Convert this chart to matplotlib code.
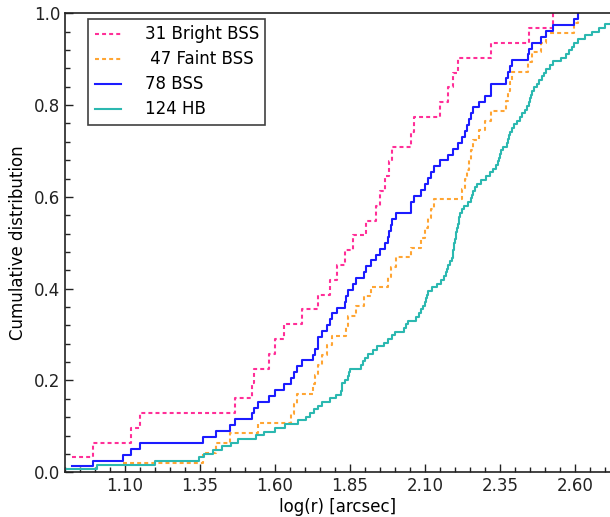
import numpy as np
import matplotlib
matplotlib.use("Agg")
import matplotlib.pyplot as plt
from matplotlib.ticker import MultipleLocator

# log10 of projected radial distance (arcsec) for each population
bright_bss = [0.923, 0.993, 1.120, 1.150, 1.467, 1.523, 1.530, 1.580, 1.600, 1.630,
              1.690, 1.743, 1.783, 1.807, 1.833, 1.860, 1.903, 1.937, 1.950, 1.967,
              1.980, 1.990, 2.053, 2.063, 2.150, 2.177, 2.193, 2.210, 2.320, 2.447,
              2.527]

faint_bss = [1.093, 1.360, 1.403, 1.450, 1.543, 1.653, 1.663, 1.673, 1.727, 1.733,
             1.743, 1.757, 1.773, 1.790, 1.837, 1.843, 1.870, 1.897, 1.920, 1.977,
             1.987, 2.003, 2.053, 2.087, 2.100, 2.110, 2.120, 2.130, 2.223, 2.233,
             2.240, 2.247, 2.253, 2.260, 2.280, 2.300, 2.320, 2.370, 2.377, 2.383,
             2.390, 2.443, 2.457, 2.487, 2.503, 2.597, 2.610]

hb = [0.897, 1.007, 1.200, 1.347, 1.363, 1.393, 1.423, 1.453, 1.477, 1.537,
      1.563, 1.600, 1.633, 1.677, 1.703, 1.717, 1.730, 1.743, 1.757, 1.783,
      1.803, 1.820, 1.822, 1.823, 1.833, 1.843, 1.847, 1.850, 1.887, 1.893,
      1.900, 1.910, 1.927, 1.940, 1.963, 1.977, 1.990, 2.000, 2.030, 2.037,
      2.043, 2.070, 2.080, 2.087, 2.093, 2.100, 2.103, 2.107, 2.110, 2.123,
      2.140, 2.153, 2.163, 2.170, 2.173, 2.177, 2.183, 2.190, 2.193, 2.195,
      2.197, 2.198, 2.200, 2.202, 2.203, 2.207, 2.210, 2.213, 2.215, 2.217,
      2.223, 2.230, 2.243, 2.253, 2.257, 2.260, 2.267, 2.273, 2.287, 2.303,
      2.317, 2.327, 2.337, 2.343, 2.347, 2.350, 2.353, 2.360, 2.373, 2.377,
      2.380, 2.383, 2.390, 2.397, 2.407, 2.417, 2.423, 2.433, 2.440, 2.447,
      2.450, 2.453, 2.457, 2.463, 2.473, 2.480, 2.490, 2.497, 2.503, 2.517,
      2.527, 2.553, 2.570, 2.580, 2.590, 2.597, 2.610, 2.633, 2.657, 2.680,
      2.700, 2.720, 2.743, 2.767]

# the full BSS sample is bright + faint together
all_bss = bright_bss + faint_bss

series = [
    ("31 Bright BSS", bright_bss, "#ff2f98", (0, (1.9, 1.5))),
    (" 47 Faint BSS", faint_bss, "#ffa533", (0, (1.9, 1.5))),
    ("78 BSS", all_bss, "#1c1cff", "-"),
    ("124 HB", hb, "#2bb8b0", "-"),
]

plt.rcParams["font.family"] = "DejaVu Sans"
plt.rcParams["font.size"] = 12

fig = plt.figure(figsize=(6.10, 5.17), dpi=100)
ax = fig.add_axes([0.1066, 0.0865, 0.8934, 0.8878])

for label, vals, color, ls in series:
    x = np.sort(np.asarray(vals, dtype=float))
    y = np.arange(1, len(x) + 1) / len(x)
    ax.step(x, y, where="post", color=color, linestyle=ls, linewidth=1.5,
            label=label)

ax.set_xlim(0.90, 2.717)
ax.set_ylim(0.0, 1.0)

ax.set_xticks([1.10, 1.35, 1.60, 1.85, 2.10, 2.35, 2.60])
ax.set_xticklabels(["1.10", "1.35", "1.60", "1.85", "2.10", "2.35", "2.60"])
ax.xaxis.set_minor_locator(MultipleLocator(0.05))
ax.yaxis.set_major_locator(MultipleLocator(0.2))
ax.yaxis.set_minor_locator(MultipleLocator(0.04))

ax.tick_params(which="both", direction="in", top=False, right=False,
               labelsize=12, colors="#222222")
ax.tick_params(which="major", length=6, width=1.0)
ax.tick_params(which="minor", length=3.5, width=1.0)

for side in ("left", "bottom", "top"):
    ax.spines[side].set_linewidth(1.2)
    ax.spines[side].set_color("#222222")
ax.spines["right"].set_visible(False)

ax.set_xlabel("log(r) [arcsec]", fontsize=12, labelpad=2)
ax.set_ylabel("Cumulative distribution", fontsize=12, labelpad=5)

leg = ax.legend(loc="upper left", bbox_to_anchor=(0.042, 0.988), fontsize=12,
                frameon=True, fancybox=False, handlelength=1.6,
                borderpad=0.4, labelspacing=0.42, handletextpad=1.4,
                borderaxespad=0.0)
leg.get_frame().set_edgecolor("#111111")
leg.get_frame().set_linewidth(1.2)

fig.savefig("out.png", dpi=100)
